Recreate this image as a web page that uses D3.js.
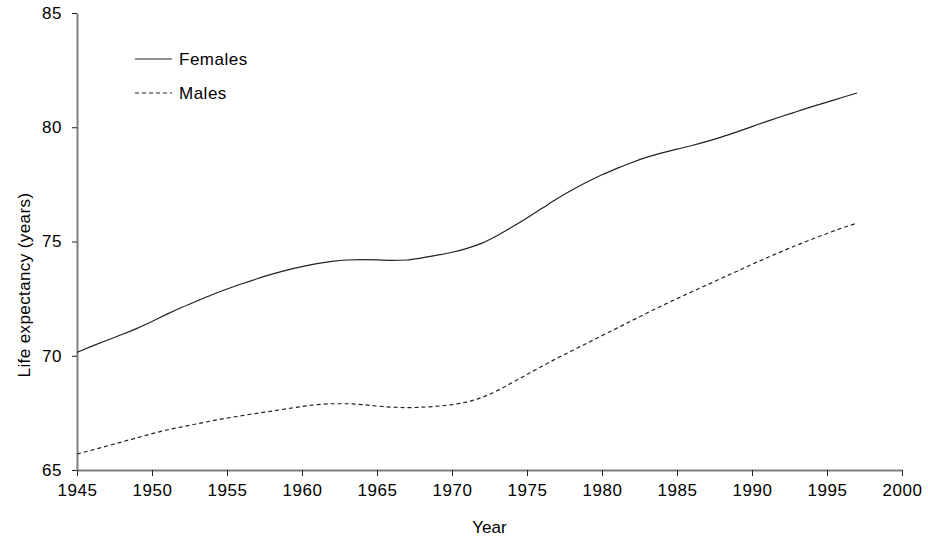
<!DOCTYPE html>
<html>
<head>
<meta charset="utf-8">
<script src="https://cdn.jsdelivr.net/npm/d3@7"></script>
<style>
  body { margin: 0; background: #fff; }
  text { font-family: "Liberation Sans", Arial, sans-serif; }
</style>
</head>
<body>
<div id="chart-area"></div>
<script>
const years = d3.range(1945, 1998)
const females = [
    70.15, 70.42, 70.68, 70.93, 71.2, 71.5, 71.82, 72.12, 72.4, 72.67,
    72.92, 73.15, 73.37, 73.57, 73.75, 73.9, 74.03, 74.13, 74.19, 74.21,
    74.2, 74.17, 74.19, 74.28, 74.4, 74.53, 74.7, 74.93, 75.25, 75.63,
    76.03, 76.45, 76.87, 77.25, 77.6, 77.92, 78.2, 78.46, 78.69, 78.88,
    79.04, 79.2, 79.38, 79.58, 79.8, 80.03, 80.26, 80.48, 80.69, 80.9,
    81.1, 81.3, 81.5
]
const males = [
    65.7, 65.87, 66.05, 66.23, 66.41, 66.59, 66.75, 66.89, 67.02, 67.15,
    67.27, 67.38, 67.48, 67.58, 67.68, 67.78, 67.86, 67.9, 67.9, 67.86,
    67.8, 67.75, 67.73, 67.75, 67.79, 67.86, 67.98, 68.18, 68.47, 68.82,
    69.18, 69.54, 69.89, 70.22, 70.55, 70.88, 71.21, 71.54, 71.87, 72.19,
    72.5, 72.8, 73.1, 73.4, 73.7, 74.0, 74.29, 74.57, 74.84, 75.1,
    75.35, 75.59, 75.8
]
const xTicks = d3.range(1945, 2001, 5)
const yTicks = [65, 70, 75, 80, 85]
const seriesNames = ['Females', 'Males']

const canvas = { width: 928, height: 537 }
const margin = { left: 77, top: 13, right: 26, bottom: 67 }
const group = {
    width: canvas.width - margin.left - margin.right,
    height: canvas.height - margin.top - margin.bottom
}

let svg = d3.select('#chart-area')
    .append('svg')
    .attr('width', canvas.width)
    .attr('height', canvas.height)

let g = svg.append('g')
    .attr('transform', `translate(${margin.left},${margin.top})`)

let scaleX = d3.scaleLinear().domain([1945, 2000]).range([0, group.width])
let scaleY = d3.scaleLinear().domain([65, 85]).range([group.height, 0])

// x-axis
let xAxis = d3.axisBottom(scaleX).tickValues(xTicks).tickFormat(d3.format('d'))
    .tickSizeInner(6).tickSizeOuter(0).tickPadding(8)
let xg = g.append('g')
    .attr('transform', `translate(0, ${group.height})`)
    .call(xAxis)

// y-axis
let yAxis = d3.axisLeft(scaleY).tickValues(yTicks)
    .tickSizeInner(5).tickSizeOuter(0).tickPadding(10)
let yg = g.append('g').call(yAxis)

;[xg, yg].forEach(a => {
    a.select('.domain').attr('stroke', '#808080').attr('stroke-width', 2)
    a.selectAll('.tick line').attr('stroke', '#222')
    a.selectAll('.tick text').attr('fill', '#000')
        .style('font-size', '17px')
        .style('letter-spacing', '0.6px')
})

// axis titles
svg.append('text')
    .attr('x', margin.left + group.width / 2)
    .attr('y', 533)
    .attr('text-anchor', 'middle')
    .style('font-size', '17px')
    .text('Year')

svg.append('text')
    .attr('transform', 'translate(30, 285) rotate(-90)')
    .attr('text-anchor', 'middle')
    .style('font-size', '17px')
    .style('letter-spacing', '0.4px')
    .text('Life expectancy (years)')

// lines
let line = d3.line()
    .x((d, i) => scaleX(years[i]))
    .y(d => scaleY(d))
    .curve(d3.curveMonotoneX)

const dashes = [null, '4,3']

;[females, males].forEach((s, i) => {
    g.append('path')
        .datum(s)
        .attr('fill', 'none')
        .attr('stroke', '#222')
        .attr('stroke-width', 1.2)
        .attr('stroke-dasharray', dashes[i])
        .attr('d', line)
})

// legend
let legend = svg.append('g')
seriesNames.forEach((name, i) => {
    let y = 59 + i * 34
    legend.append('line')
        .attr('x1', 135).attr('x2', 172)
        .attr('y1', y).attr('y2', y)
        .attr('stroke', '#222')
        .attr('stroke-width', 1.2)
        .attr('stroke-dasharray', dashes[i])
    legend.append('text')
        .attr('x', 179)
        .attr('y', y + 6)
        .style('font-size', '17px')
        .style('letter-spacing', '0.5px')
        .text(name)
})
</script>
</body>
</html>
